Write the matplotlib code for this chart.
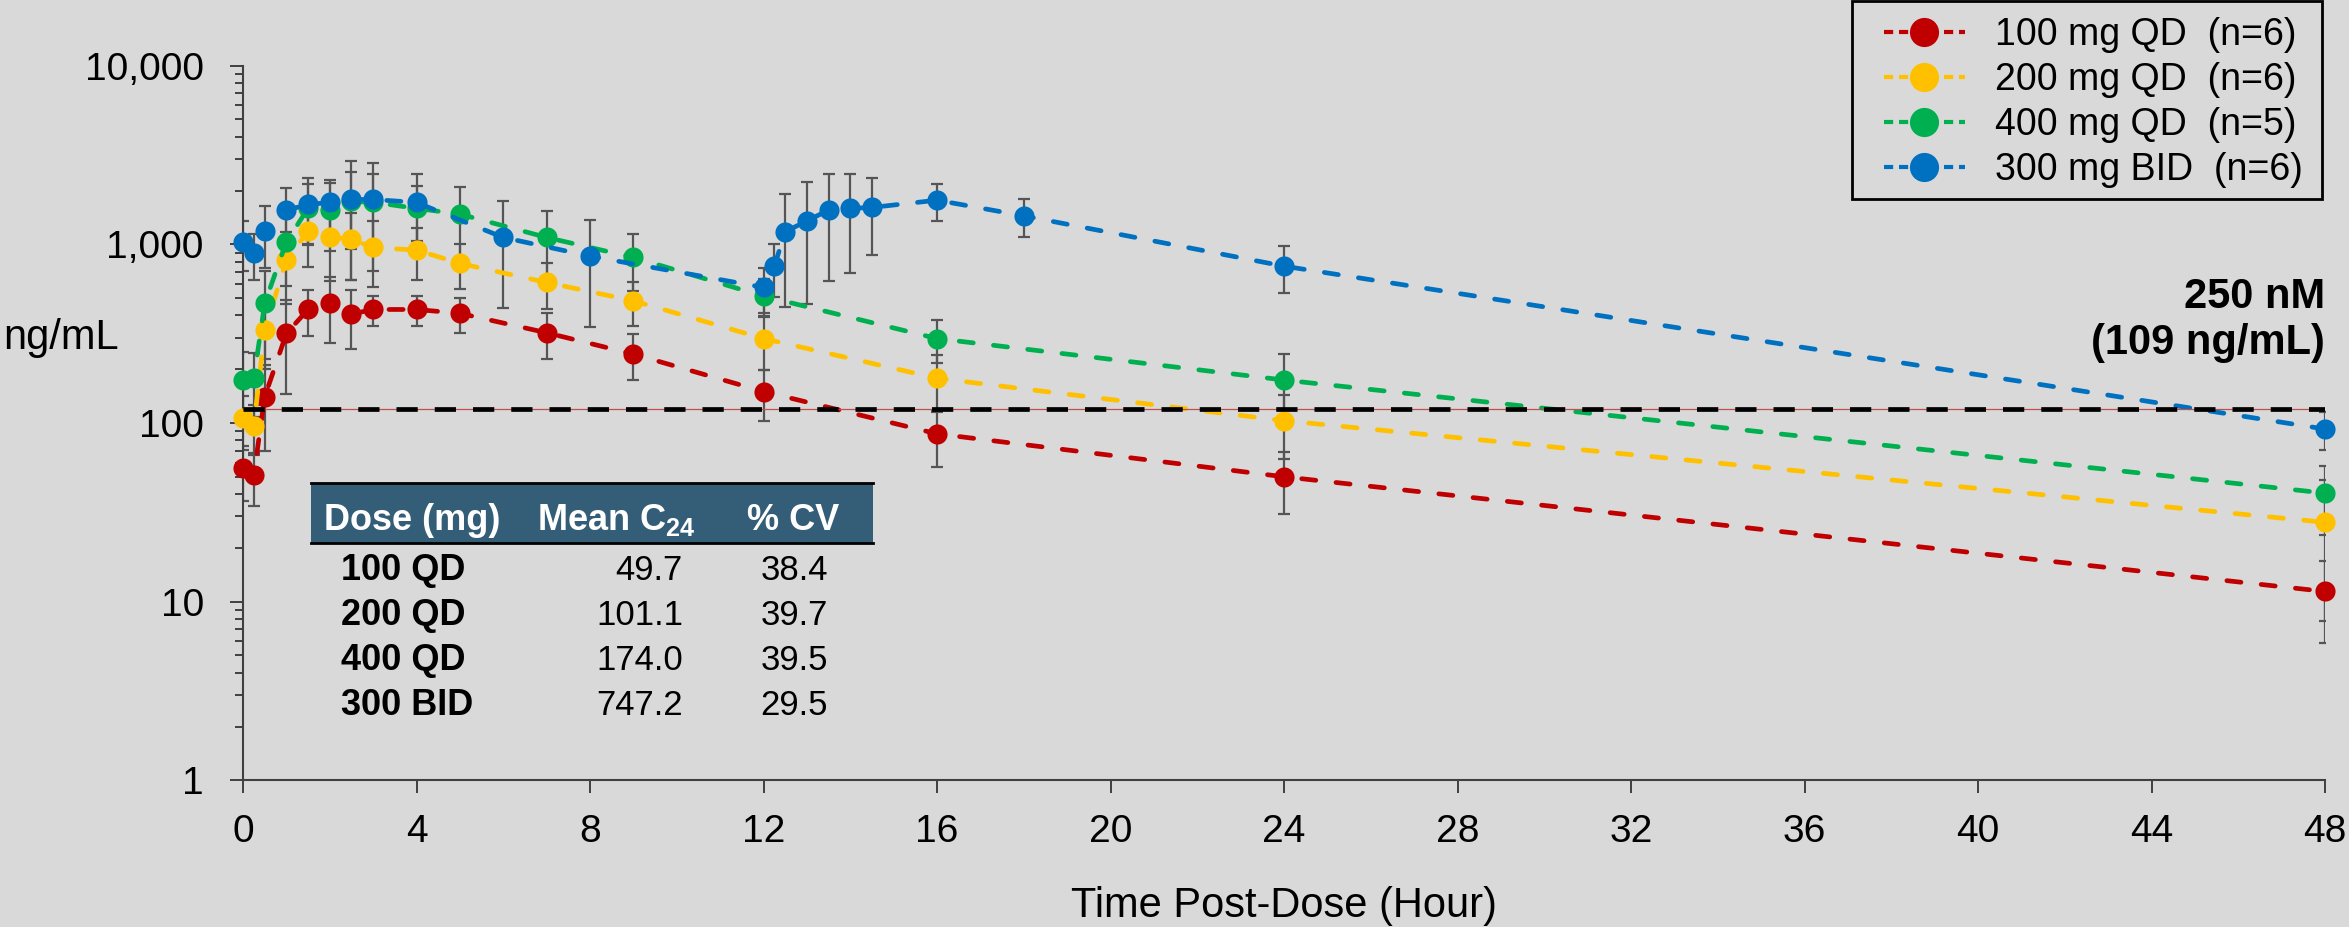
import numpy as np
import matplotlib
matplotlib.use("Agg")
import matplotlib.pyplot as plt
from matplotlib.lines import Line2D
from matplotlib.patches import Rectangle
from matplotlib.ticker import FuncFormatter, LogLocator, NullFormatter

plt.rcParams['font.family'] = ['Liberation Sans', 'DejaVu Sans']
plt.rcParams['mathtext.fontset'] = 'custom'
plt.rcParams['mathtext.rm'] = 'Liberation Sans'
plt.rcParams['mathtext.bf'] = 'Liberation Sans:bold'

# Mean (SD) plasma concentrations, ng/mL
t_qd = [0, 0.25, 0.5, 1, 1.5, 2, 2.5, 3, 4, 5, 7, 9, 12, 16, 24, 48]
mean_100 = [55.7, 51.1, 140, 317, 432, 467, 407, 432, 432, 411, 320, 243, 150, 87, 50, 11.4]
sd_100 = [19, 17, 70, 172, 125, 186, 149, 82, 82, 90, 91, 70, 47, 30, 19, 5.5]
mean_200 = [106, 96, 331, 816, 1186, 1102, 1065, 961, 929, 782, 612, 483, 297, 178, 103, 27.8]
sd_200 = [35, 30, 130, 355, 443, 480, 430, 383, 300, 223, 178, 135, 100, 63, 40, 20]
mean_400 = [174, 178, 467, 1033, 1590, 1553, 1740, 1720, 1590, 1476, 1093, 845, 513, 297, 174, 40.5]
sd_400 = [76, 70, 240, 450, 600, 640, 800, 750, 540, 630, 440, 300, 123, 80, 69, 17]

t_bid = [0, 0.25, 0.5, 1, 1.5, 2, 2.5, 3, 4, 6, 8, 12, 12.25, 12.5, 13, 13.5, 14, 14.5, 16, 18, 24, 48]
mean_300 = [1033, 889, 1186, 1553, 1672, 1716, 1783, 1783, 1716, 1093, 859, 574, 755, 1175,
            1354, 1553, 1590, 1609, 1767, 1444, 755, 92.5]
sd_300 = [320, 260, 450, 527, 666, 590, 1150, 1075, 756, 650, 515, 159, 250, 730,
          890, 930, 900, 740, 420, 345, 223, 22]

legend_labels = ["100 mg QD  (n=6)", "200 mg QD  (n=6)", "400 mg QD  (n=5)", "300 mg BID  (n=6)"]
colors = ['#C00000', '#FFC000', '#00B050', '#0070C0']

threshold = 120  # drawn line for 250 nM

# inset table
dose_labels = ["100 QD", "200 QD", "400 QD", "300 BID"]
mean_c24 = [49.7, 101.1, 174.0, 747.2]
cv_pct = [38.4, 39.7, 39.5, 29.5]

BG = '#D9D9D9'
W, H = 2349, 927
fig = plt.figure(figsize=(W / 100, H / 100), dpi=100, facecolor=BG)
ax = fig.add_axes([243 / W, 1 - 780.3 / H, (2325 - 243) / W, (780.3 - 65.7) / H], facecolor=BG)

series = [(t_qd, mean_100, sd_100), (t_qd, mean_200, sd_200),
          (t_qd, mean_400, sd_400), (t_bid, mean_300, sd_300)]

for i, (t, m, s) in enumerate(series):
    ax.errorbar(t, m, yerr=s, fmt='none', ecolor='#555555', elinewidth=1.6,
                capsize=4.5, capthick=1.6, zorder=2)
for i, (t, m, s) in enumerate(series):
    ax.plot(t, m, color=colors[i], lw=3.4, ls=(0, (3.0, 4.3)), dash_capstyle='round',
            marker='o', ms=14.5, mew=0, clip_on=False, zorder=3 + i)

ax.axhline(threshold, color='#C0504D', lw=0.9, zorder=8)
ax.axhline(threshold, color='black', lw=3.4, ls=(0, (4.5, 3.6)), dash_capstyle='butt', zorder=9)

ax.set_yscale('log')
ax.set_xlim(0, 48)
ax.set_ylim(1, 10000)
ax.set_xticks(np.arange(0, 49, 4))
ax.yaxis.set_major_formatter(FuncFormatter(lambda v, p: f"{v:,.0f}"))
ax.yaxis.set_minor_locator(LogLocator(base=10, subs=np.arange(2, 10)))
ax.yaxis.set_minor_formatter(NullFormatter())

ax.tick_params(axis='x', which='major', direction='out', length=9.4, width=1.4,
               color='#404040', labelsize=28, pad=15)
ax.tick_params(axis='y', which='major', direction='out', length=9.2, width=1.4,
               color='#404040', labelsize=28, pad=19)
ax.tick_params(axis='y', which='minor', direction='out', length=6, width=1.4, color='#404040')
for side in ['top', 'right']:
    ax.spines[side].set_visible(False)
for side in ['left', 'bottom']:
    ax.spines[side].set_color('#404040')
    ax.spines[side].set_linewidth(1.5)

fig.text(0.0015, 1 - 338 / H, 'ng/mL', fontsize=30, ha='left', va='center')
fig.text((243 + 2325) / 2 / W, 1 - 906 / H, 'Time Post-Dose (Hour)', fontsize=30,
         ha='center', va='center')

fig.text(2325 / W, 1 - 320 / H, '250 nM\n(109 ng/mL)', fontsize=30, fontweight='bold',
         ha='right', va='center', linespacing=1.2)

# legend
handles = [Line2D([], [], color=c, lw=3, ls=(0, (2.2, 1.4)), marker='o', ms=21, mew=0)
           for c in colors]
ax.legend(handles, legend_labels, loc='upper left', bbox_to_anchor=(1884 / W, 1 - 17 / H),
          bbox_transform=fig.transFigure, frameon=False, fontsize=27, handlelength=2.15,
          handletextpad=0.8, labelspacing=0.24, borderpad=0, borderaxespad=0)
fig.add_artist(Rectangle((1852 / W, 1 - 199 / H), (2322 - 1852) / W, 198 / H,
                         transform=fig.transFigure, fill=False, ec='black', lw=2))

# table
fig.add_artist(Rectangle((311 / W, 1 - 543 / H), (873 - 311) / W, 60 / H,
                         transform=fig.transFigure, fc='#345E78', ec='none'))
for yy in [483, 543]:
    fig.add_artist(Line2D([311 / W, 873 / W], [1 - yy / H] * 2, transform=fig.transFigure,
                          color='black', lw=2))
hy = 1 - 530 / H
fig.text(324 / W, hy, 'Dose (mg)', color='white', fontsize=26, fontweight='bold', va='baseline')
fig.text(537 / W, hy, r'Mean C$_{\mathbf{24}}$', color='white', fontsize=26, fontweight='bold',
         va='baseline')
fig.text(747 / W, hy, '% CV', color='white', fontsize=26, fontweight='bold', va='baseline')
for i in range(len(dose_labels)):
    ry = 1 - (580 + 45 * i) / H
    fig.text(341 / W, ry, dose_labels[i], fontsize=26, fontweight='bold', va='baseline')
    fig.text(683 / W, ry, f"{mean_c24[i]:.1f}", fontsize=25, ha='right', va='baseline')
    fig.text(828 / W, ry, f"{cv_pct[i]:.1f}", fontsize=25, ha='right', va='baseline')

fig.savefig('out.png', dpi=100, facecolor=BG)
